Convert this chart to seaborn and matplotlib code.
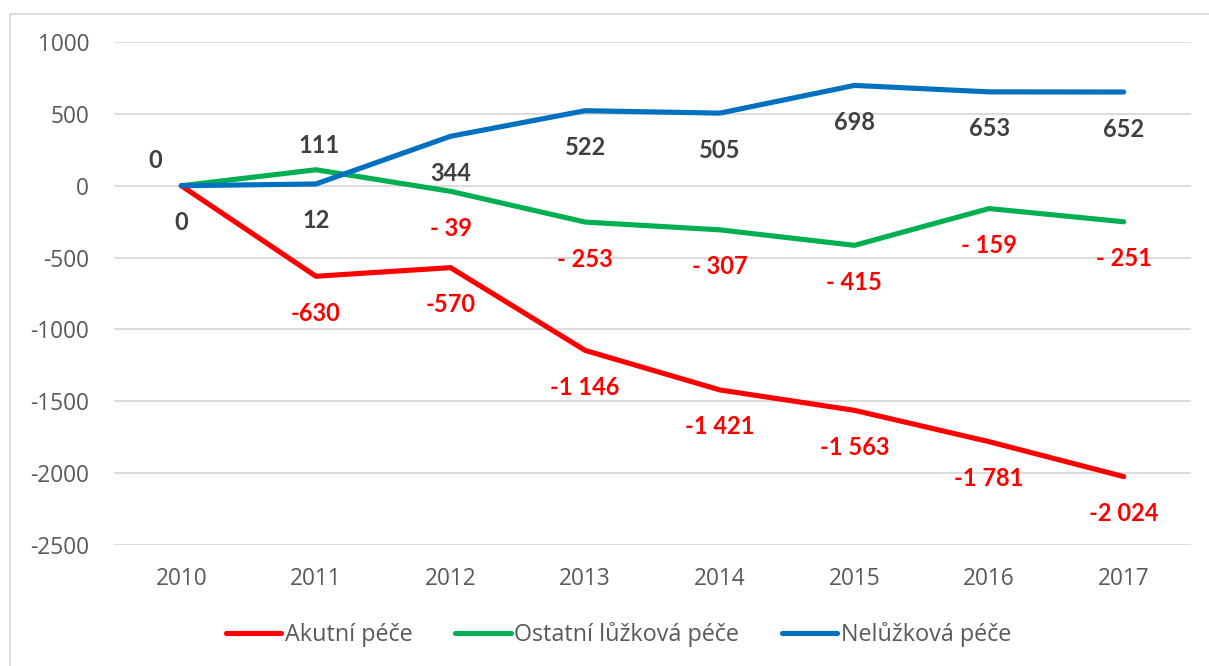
import matplotlib
matplotlib.use("Agg")
import matplotlib.pyplot as plt
import seaborn as sns
import pandas as pd
from matplotlib.patches import Rectangle

years = [2010, 2011, 2012, 2013, 2014, 2015, 2016, 2017]
akutni = [0, -630, -570, -1146, -1421, -1563, -1781, -2024]
ostatni = [0, 111, -39, -253, -307, -415, -159, -251]
neluzkova = [0, 12, 344, 522, 505, 698, 653, 652]
series_names = ["Akutní péče", "Ostatní lůžková péče", "Nelůžková péče"]
colors = ["#ff0000", "#00b050", "#0070c0"]
yticks = [-2500, -2000, -1500, -1000, -500, 0, 500, 1000]

rows = []
for name, vals in zip(series_names, [akutni, ostatni, neluzkova]):
    for y, v in zip(years, vals):
        rows.append({"year": y, "value": v, "series": name})
df = pd.DataFrame(rows)

sns.set_theme(style="white")
plt.rcParams["font.family"] = ["Open Sans", "DejaVu Sans"]

fig = plt.figure(figsize=(12.09, 6.66), dpi=100)
ax = fig.add_axes([114 / 1209, 1 - 545 / 666, (1191 - 114) / 1209, (545 - 42) / 666])

sns.lineplot(data=df, x="year", y="value", hue="series", hue_order=series_names,
             palette=colors, linewidth=3.7, ax=ax, legend=True,
             solid_capstyle="round", solid_joinstyle="round")

ax.set_xlim(2009.5, 2017.5)
ax.set_ylim(-2500, 1000)
ax.set_yticks(yticks)
ax.set_yticklabels([str(t) for t in yticks])
ax.set_xticks(years)
ax.set_xticklabels([str(y) for y in years])
ax.grid(axis="y", color="#d9d9d9", linewidth=1.3)
ax.grid(axis="x", visible=False)
ax.set_axisbelow(True)
for s in ax.spines.values():
    s.set_visible(False)
ax.tick_params(axis="y", length=0, pad=18, labelsize=16.3, labelcolor="#595959")
ax.tick_params(axis="x", length=0, pad=16, labelsize=16.3, labelcolor="#595959")
ax.set_xlabel("")
ax.set_ylabel("")


def fmt(v, sep_minus=False):
    s = f"{abs(v):,}".replace(",", " ")
    if v < 0:
        return ("- " if sep_minus else "-") + s
    return s


def label(vals, sep_minus=False, overrides=None, skip=()):
    overrides = overrides or {}
    for i, (y, v) in enumerate(zip(years, vals)):
        if i in skip:
            continue
        dx, dy = overrides.get(i, (0, -37))
        ax.annotate(fmt(v, sep_minus), (y, v), xytext=(dx, dy), textcoords="offset pixels",
                    ha="center", va="center", fontsize=17, fontweight="bold",
                    family=["Lato", "DejaVu Sans"],
                    color="#ff0000" if v < 0 else "#404040")


label(akutni, skip=(0,))
label(ostatni, sep_minus=True, overrides={0: (-26, 25), 1: (3, 24)})
label(neluzkova)

leg = ax.legend(loc="center", bbox_to_anchor=(0.4684, -0.178), ncol=3, frameon=False,
                fontsize=16.8, handlelength=2.36, columnspacing=1.85, handletextpad=0.15,
                labelcolor="#595959")
for h in leg.get_lines():
    h.set_linewidth(3.7)
    h.set_solid_capstyle("round")

fig.patches.append(Rectangle((10 / 1209, -0.1), 1.2, 1 - 14 / 666 + 0.1,
                             transform=fig.transFigure, fill=False,
                             edgecolor="#d9d9d9", linewidth=1.3))

fig.savefig("out.png", dpi=100)
